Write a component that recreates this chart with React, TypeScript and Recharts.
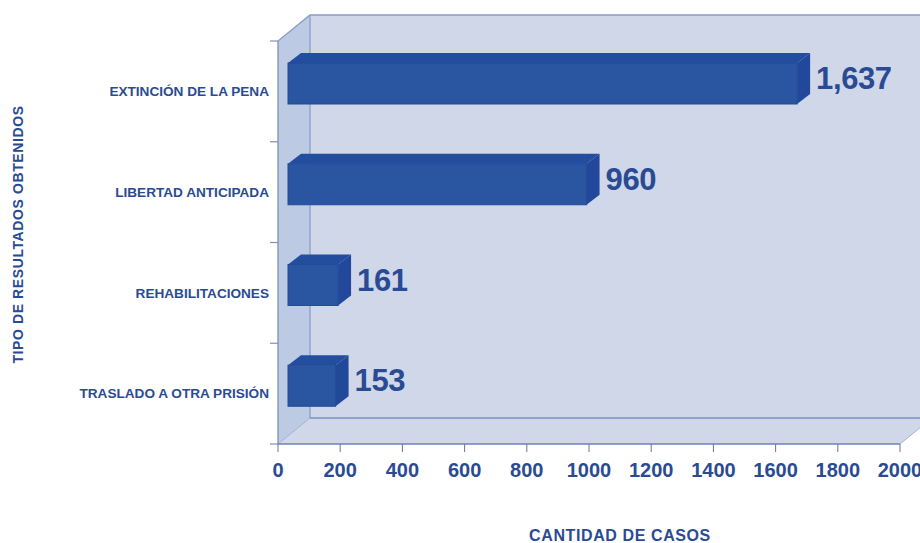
import React from "react";
import { BarChart, Bar, XAxis, YAxis, LabelList, usePlotArea } from "recharts";

const categories = ["EXTINCIÓN DE LA PENA", "LIBERTAD ANTICIPADA", "REHABILITACIONES", "TRASLADO A OTRA PRISIÓN"];
const casos = [1637, 960, 161, 153];
const xTicks = [0, 200, 400, 600, 800, 1000, 1200, 1400, 1600, 1800, 2000];
const xTitle = "CANTIDAD DE CASOS";
const yTitle = "TIPO DE RESULTADOS OBTENIDOS";

const data = categories.map((name, i) => ({ name, casos: casos[i] }));

const FONT = '"Liberation Sans", Arial, sans-serif';
const TEXT = "#2a4b94";
const DX = 32;
const DY = 26;
const BAR_DX = 13;
const BAR_DY = 10;
const SHIFT_X = 10;
const SHIFT_Y = -8;

function Walls() {
  const p = usePlotArea();
  if (!p) return null;
  const { x, y, width: w, height: h } = p;
  const bx = x + DX;
  const ty = y - DY;
  const by = y + h - DY;
  const r = x + w;
  const bottom = y + h;
  const edges = categories.map((_, i) => y + (h * i) / categories.length).concat(bottom);
  return (
    <g>
      <polygon points={`${bx},${ty} ${r + DX},${ty} ${r + DX},${by} ${bx},${by}`} fill="#cfd7e9" stroke="none" />
      <polygon points={`${x},${y} ${bx},${ty} ${bx},${by} ${x},${bottom}`} fill="#bccbe3" stroke="none" />
      <polygon points={`${x},${bottom} ${bx},${by} ${r + DX},${by} ${r},${bottom}`} fill="#cfd7e9" stroke="none" />
      <polyline points={`${x},${y} ${bx},${ty} ${r + DX},${ty}`} fill="none" stroke="#8c9cc6" strokeWidth={1.3} />
      <line x1={bx} y1={ty} x2={bx} y2={by} stroke="#8c9cc6" strokeWidth={1.3} />
      <line x1={bx} y1={by} x2={r + DX} y2={by} stroke="#7d90c2" strokeWidth={1.3} />
      <line x1={x} y1={bottom} x2={bx} y2={by} stroke="#a4b2d2" strokeWidth={1} />
      <line x1={r} y1={bottom} x2={r + DX} y2={by} stroke="#a4b2d2" strokeWidth={1} />
      <line x1={x} y1={y} x2={x} y2={bottom} stroke="#8090bb" strokeWidth={1.3} />
      {edges.map((ey, i) => (
        <line key={i} x1={x - 8} y1={ey} x2={x} y2={ey} stroke="#8090bb" strokeWidth={1.2} />
      ))}
    </g>
  );
}

function Bar3D(props: any) {
  const { x, y, width, height } = props;
  const l = x + SHIFT_X;
  const t = y + SHIFT_Y;
  const r = l + width;
  const b = t + height;
  return (
    <g>
      <polygon points={`${l},${t} ${l + BAR_DX},${t - BAR_DY} ${r + BAR_DX},${t - BAR_DY} ${r},${t}`} fill="#234d9e" />
      <polygon points={`${r},${t} ${r + BAR_DX},${t - BAR_DY} ${r + BAR_DX},${b - BAR_DY} ${r},${b}`} fill="#21489a" />
      <rect x={l} y={t} width={width} height={height} fill="#2a55a0" stroke="#234a96" strokeWidth={1} />
    </g>
  );
}

function ValueLabel(props: any) {
  const { x, y, width, height, value } = props;
  return (
    <text
      x={x + width + 29}
      y={y + height / 2 - 13}
      fill={TEXT}
      fontFamily={FONT}
      fontWeight={700}
      fontSize={31}
      letterSpacing={-0.4}
      dominantBaseline="central"
    >
      {Number(value).toLocaleString("en-US")}
    </text>
  );
}

export default function App() {
  return (
    <div style={{ position: "absolute", left: 0, top: 0, width: 920, height: 543, overflow: "hidden", background: "#fff" }}>
      <BarChart
        width={920}
        height={543}
        data={data}
        layout="vertical"
        barSize={41}
        margin={{ top: 41, right: 20, bottom: 0, left: 0 }}
      >
        <Walls />
        <XAxis
          type="number"
          domain={[0, 2000]}
          ticks={xTicks}
          interval={0}
          height={99}
          axisLine={{ stroke: "#6f82b8", strokeWidth: 1.3 }}
          tickLine={{ stroke: "#6a7690" }}
          tickSize={8}
          tickMargin={11}
          tick={{ fill: TEXT, fontSize: 20, fontWeight: 700, fontFamily: FONT }}
          label={{
            value: xTitle,
            position: "insideBottom",
            offset: 2,
            dx: 31,
            fill: TEXT,
            fontSize: 16,
            letterSpacing: 0.6,
            fontWeight: 700,
            fontFamily: FONT,
          }}
        />
        <YAxis
          type="category"
          dataKey="name"
          width={278}
          axisLine={false}
          tickLine={false}
          tickSize={0}
          tickMargin={9}
          interval={0}
          tick={{ fill: TEXT, fontSize: 13.6, fontWeight: 700, fontFamily: FONT }}
          label={{
            value: yTitle,
            angle: -90,
            position: "insideLeft",
            offset: 18,
            textAnchor: "middle",
            dy: -8,
            fill: TEXT,
            fontSize: 14,
            letterSpacing: 0.6,
            fontWeight: 700,
            fontFamily: FONT,
          }}
        />
        <Bar dataKey="casos" shape={<Bar3D />} isAnimationActive={false}>
          <LabelList dataKey="casos" content={<ValueLabel />} />
        </Bar>
      </BarChart>
    </div>
  );
}
